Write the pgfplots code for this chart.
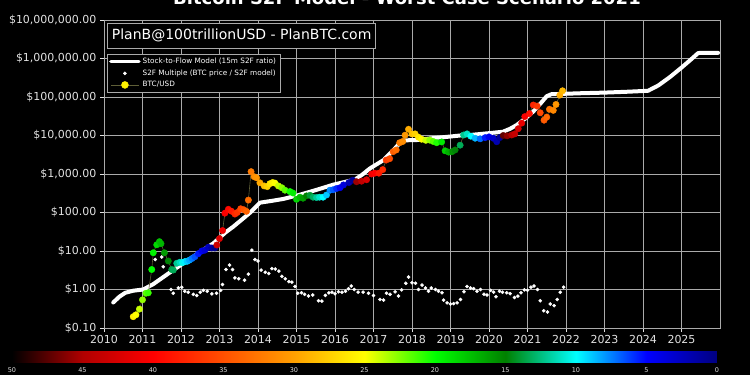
\documentclass[border=0pt]{standalone}
\usepackage{pgfplots}
\pgfplotsset{compat=1.18}
\usepackage{pgfplotstable}
\usepackage{fontspec}
\setmainfont{DejaVu Sans}
\definecolor{gridc}{RGB}{170,170,170}
\definecolor{labc}{RGB}{225,225,225}
\definecolor{btcline}{RGB}{95,95,55}

\pgfplotsset{
  colormap={s2f}{
    rgb255=(0,0,128) rgb255=(0,0,255) rgb255=(0,255,255) rgb255=(0,128,0)
    rgb255=(0,255,0) rgb255=(255,255,0) rgb255=(255,160,0) rgb255=(255,80,0)
    rgb255=(255,0,0) rgb255=(176,0,0) rgb255=(0,0,0)
  }
}

% Stock-to-Flow model (15m S2F ratio)
\pgfplotstableread{
x y
2010.24 0.46
2010.40 0.65
2010.55 0.82
2010.76 0.93
2011.02 1.0
2011.28 1.38
2011.54 2.1
2011.80 3.2
2012.06 4.8
2012.32 7.1
2012.58 10.7
2012.84 15.8
2012.93 19
2013.15 30
2013.36 43
2013.60 68
2013.80 100
2014.05 180
2014.35 200
2014.66 225
2015.09 290
2015.53 390
2015.96 530
2016.25 620
2016.52 720
2016.70 950
2016.91 1400
2017.26 2300
2017.52 4200
2017.69 6500
2017.82 7500
2018.12 7600
2018.47 8400
2018.90 9200
2019.25 10000
2019.51 10300
2020.00 11500
2020.36 12500
2020.55 15000
2020.72 18700
2020.95 28000
2021.15 42000
2021.35 70000
2021.50 105000
2021.62 118000
2022.36 125000
2023.00 130000
2023.60 137000
2024.13 145000
2024.40 200000
2024.70 330000
2025.00 580000
2025.25 950000
2025.43 1380000
2025.50 1400000
2025.95 1400000
}\modeldata

% S2F multiple (BTC price / S2F model)
\pgfplotstableread{
x y
2011.33 6
2011.50 7
2011.54 3.9
2011.74 1.0
2011.80 0.8
2011.93 1.1
2012.02 1.15
2012.10 0.9
2012.19 0.85
2012.32 0.75
2012.41 0.7
2012.50 0.85
2012.58 0.95
2012.68 0.9
2012.80 0.77
2012.92 0.8
2013.03 0.95
2013.08 1.35
2013.17 3.3
2013.26 4.3
2013.34 3.3
2013.40 2.0
2013.50 1.9
2013.65 1.75
2013.75 2.5
2013.84 10.5
2013.92 6
2014.00 5.5
2014.08 3.2
2014.19 2.8
2014.28 2.6
2014.36 3.5
2014.45 3.4
2014.54 3.0
2014.62 2.2
2014.71 1.9
2014.80 1.6
2014.88 1.55
2014.96 1.2
2015.03 0.8
2015.13 0.82
2015.21 0.75
2015.31 0.68
2015.42 0.72
2015.57 0.51
2015.66 0.5
2015.75 0.7
2015.84 0.82
2015.92 0.85
2016.00 0.78
2016.09 0.87
2016.18 0.85
2016.27 0.9
2016.35 1.05
2016.42 1.23
2016.50 1.0
2016.60 0.85
2016.73 0.85
2016.87 0.8
2017.00 0.7
2017.17 0.55
2017.26 0.53
2017.34 0.8
2017.43 0.75
2017.56 0.87
2017.65 0.68
2017.73 0.98
2017.84 1.45
2017.91 2.1
2018.00 1.5
2018.09 1.45
2018.17 1.0
2018.26 1.3
2018.35 1.1
2018.43 0.9
2018.50 1.1
2018.61 1.0
2018.69 0.9
2018.78 0.82
2018.82 0.53
2018.91 0.45
2019.00 0.42
2019.08 0.43
2019.17 0.45
2019.26 0.55
2019.35 0.87
2019.43 1.2
2019.52 1.1
2019.60 1.05
2019.69 0.9
2019.78 1.0
2019.87 0.75
2019.95 0.72
2020.04 0.95
2020.12 0.85
2020.18 0.65
2020.27 0.9
2020.35 0.85
2020.46 0.82
2020.55 0.78
2020.66 0.62
2020.75 0.67
2020.83 0.82
2020.92 0.98
2021.00 0.95
2021.09 1.15
2021.17 1.23
2021.26 1.0
2021.33 0.51
2021.42 0.28
2021.52 0.26
2021.59 0.42
2021.69 0.38
2021.77 0.55
2021.85 0.85
2021.94 1.15
}\multdata

% BTC/USD, m = months until next halving
\pgfplotstableread{
x y m
2010.76 0.197 25.8
2010.83 0.22 25.0
2010.92 0.31 23.9
2011.00 0.54 22.9
2011.09 0.80 21.8
2011.15 0.82 21.1
2011.24 3.3 20.0
2011.28 9 19.6
2011.37 14.5 18.5
2011.44 17.5 17.6
2011.48 15.5 17.2
2011.57 9 16.1
2011.67 5.5 14.9
2011.76 3.3 13.8
2011.80 3.2 13.3
2011.89 4.8 12.2
2011.97 5.1 11.3
2012.04 5.0 10.4
2012.10 5.3 9.7
2012.16 5.4 9.0
2012.22 5.8 8.3
2012.29 6.4 7.4
2012.36 7.1 6.6
2012.45 8.5 5.5
2012.54 10.0 4.4
2012.62 10.5 3.5
2012.71 12.5 2.4
2012.80 12.0 1.3
2012.88 12 0.4
2012.93 14.3 43.1
2013.00 21 42.2
2013.08 34 41.2
2013.14 96 40.4
2013.23 121 39.5
2013.31 108 38.5
2013.40 91 37.4
2013.46 100 36.7
2013.55 125 35.6
2013.63 118 34.7
2013.70 107 33.8
2013.75 210 33.2
2013.82 1150 32.4
2013.90 850 31.4
2013.96 800 30.7
2014.05 590 29.6
2014.16 490 28.3
2014.24 470 27.4
2014.31 560 26.5
2014.38 600 25.7
2014.44 580 25.0
2014.53 490 23.9
2014.62 440 22.8
2014.70 380 21.8
2014.83 350 20.3
2014.91 320 19.3
2015.00 220 18.2
2015.09 250 17.2
2015.17 235 16.2
2015.26 270 15.1
2015.35 280 14.0
2015.43 250 13.1
2015.52 245 12.0
2015.60 250 11.0
2015.69 250 10.0
2015.78 285 8.9
2015.87 380 7.8
2015.95 390 6.8
2016.04 420 5.8
2016.13 440 4.7
2016.22 520 3.6
2016.36 600 1.9
2016.46 690 0.7
2016.56 630 45.6
2016.69 650 44.0
2016.82 710 42.5
2016.95 1000 40.9
2017.03 1050 40.0
2017.14 1050 38.6
2017.24 1300 37.4
2017.33 2300 36.4
2017.42 2500 35.3
2017.51 3800 34.2
2017.59 4200 33.2
2017.68 6500 32.2
2017.76 7000 31.2
2017.82 10200 30.5
2017.91 14500 29.4
2018.00 11000 28.3
2018.08 11000 27.4
2018.17 9000 26.3
2018.25 8000 25.3
2018.36 7500 24.0
2018.46 7600 22.8
2018.55 7000 21.7
2018.64 6500 20.6
2018.77 6800 19.1
2018.86 4000 18.0
2018.95 3700 16.9
2019.04 3800 15.8
2019.12 4200 14.9
2019.25 5600 13.3
2019.34 10300 12.2
2019.43 11000 11.2
2019.53 9600 10.0
2019.64 8500 8.6
2019.77 8200 7.1
2019.90 8800 5.5
2020.00 9200 4.3
2020.11 8500 3.0
2020.20 6900 1.9
2020.28 8800 1.0
2020.37 10000 47.2
2020.47 9800 46.0
2020.59 10300 44.6
2020.67 11000 43.6
2020.76 15000 42.5
2020.85 21000 41.4
2020.93 31000 40.4
2021.05 37000 39.0
2021.15 62000 37.8
2021.25 58000 36.6
2021.33 39000 35.6
2021.43 25000 34.4
2021.50 30000 33.6
2021.57 48000 32.8
2021.67 45000 31.6
2021.74 64000 30.7
2021.84 112000 29.5
2021.91 145000 28.7
}\btcdata

\begin{document}
\begin{tikzpicture}
\useasboundingbox (0,0) rectangle (750pt,375pt);
\fill[black] (0,0) rectangle (750pt,375pt);
\begin{axis}[
  at={(104pt,47pt)}, anchor=south west,
  scale only axis, width=616pt, height=308pt,
  xmin=2010, xmax=2026,
  ymode=log, ymin=0.1, ymax=1e7,
  enlargelimits=false,
  axis background/.style={fill=black},
  axis line style={gridc, line width=0.8pt},
  grid=major,
  major grid style={gridc, line width=0.6pt},
  tick pos=left, tick align=outside,
  major tick length=4pt,
  tick style={labc, line width=0.6pt},
  yminorticks=false, xminorticks=false,
  xtick={2010,2011,2012,2013,2014,2015,2016,2017,2018,2019,2020,2021,2022,2023,2024,2025},
  xticklabels={2010,2011,2012,2013,2014,2015,2016,2017,2018,2019,2020,2021,2022,2023,2024,2025},
  ytick={0.1,1,10,100,1000,10000,100000,1000000,10000000},
  yticklabels={{\$0.10},{\$1.00},{\$10.00},{\$100.00},{\$1,000.00},{\$10,000.00},{\$100,000.00},{\$1,000,000.00},{\$10,000,000.00}},
  tick label style={font=\fontsize{11}{13}\selectfont, text=labc},
  colormap name=s2f,
  point meta min=0, point meta max=50,
  colorbar horizontal,
  colorbar style={
    at={(parent axis.south west)}, anchor=north west,
    xshift=-92pt, yshift=-15pt,
    scale only axis, width=705pt, height=11pt,
    x dir=reverse,
    grid=none,
    xtick={0,5,10,15,20,25,30,35,40,45,50},
    /pgf/number format/assume math mode=true,
    xticklabel pos=left,
    xticklabel style={font=\fontsize{6.5}{7}\selectfont, text=labc, anchor=center, yshift=-8pt},
    xtick style={draw=none},
    major tick length=0pt,
    axis line style={draw=none},
  },
  legend cell align=left,
  legend style={at={(0.00487,0.8896)}, anchor=north west,
    fill=black, draw=gridc, text=white,
    font=\fontsize{7.3}{8.5}\selectfont,
    row sep=0.6pt, inner sep=2pt},
]
\addplot[white, line width=4pt, line join=round, line cap=round,
  legend image code/.code={\draw[white, line width=3.5pt] (0pt,0pt) -- (28pt,0pt);}]
  table[x=x, y=y] \modeldata;
\addlegendentry{Stock-to-Flow Model (15m S2F ratio)}
\addplot[only marks, mark=*, mark size=1.6pt, white,
  legend image code/.code={\fill[white] (14pt,0pt) circle (1.6pt);}]
  table[x=x, y=y] \multdata;
\addlegendentry{S2F Multiple (BTC price / S2F model)}
\addplot[btcline, line width=0.6pt, forget plot] table[x=x, y=y] \btcdata;
\addplot[scatter, only marks, mark=*, mark size=3.2pt, scatter src=explicit,
  scatter/use mapped color={draw=mapped color, fill=mapped color},
  legend image code/.code={\draw[btcline, line width=0.6pt] (0pt,0pt) -- (28pt,0pt); \fill[yellow] (14pt,0pt) circle (3.5pt);}]
  table[x=x, y=y, meta=m] \btcdata;
\addlegendentry{BTC/USD}
\end{axis}
\node[draw=gridc, fill=black, text=white, font=\fontsize{14}{16}\selectfont,
  anchor=north west, inner xsep=4.5pt, minimum height=25pt, line width=0.8pt]
  at (107pt,352pt) {PlanB@100trillionUSD - PlanBTC.com};
\node[text=white, font=\fontsize{18}{21}\selectfont\bfseries, anchor=base]
  at (407pt,370pt) {Bitcoin S2F Model - Worst Case Scenario 2021};
\end{tikzpicture}
\end{document}
